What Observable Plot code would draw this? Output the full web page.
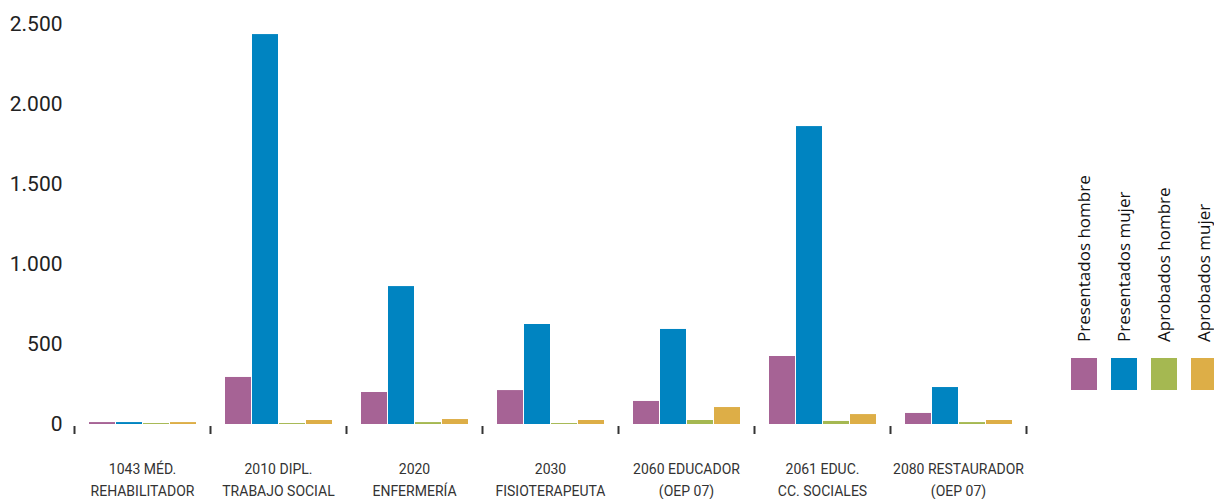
<!DOCTYPE html>
<html>
<head>
<meta charset="utf-8">
<script src="https://cdn.jsdelivr.net/npm/d3@7"></script>
<script src="https://cdn.jsdelivr.net/npm/@observablehq/plot@0.6"></script>
<style>
  html, body { margin: 0; padding: 0; background: #fff; }
  #wrap { position: relative; width: 1214px; height: 499px; overflow: hidden; }
  #legend { position: absolute; left: 0; top: 0; }
</style>
</head>
<body>
<div id="wrap"></div>
<script>
const categories = [
  "1043 MÉD.\nREHABILITADOR",
  "2010 DIPL.\nTRABAJO SOCIAL",
  "2020\nENFERMERÍA",
  "2030\nFISIOTERAPEUTA",
  "2060 EDUCADOR\n(OEP 07)",
  "2061 EDUC.\nCC. SOCIALES",
  "2080 RESTAURADOR\n(OEP 07)"
];
const series = ["Presentados hombre", "Presentados mujer", "Aprobados hombre", "Aprobados mujer"];
const presentadosHombre = [12, 294, 200, 212, 144, 425, 69];
const presentadosMujer  = [12, 2437, 862, 625, 594, 1862, 231];
const aprobadosHombre   = [6, 6, 12, 6, 25, 19, 12];
const aprobadosMujer    = [12, 25, 31, 25, 106, 62, 25];
const colors = ["#a66395", "#0084c1", "#a5b851", "#ddae47"];
const yTicks = [0, 500, 1000, 1500, 2000, 2500];

const seriesValues = [presentadosHombre, presentadosMujer, aprobadosHombre, aprobadosMujer];
const data = [];
categories.forEach((c, i) => {
  series.forEach((s, j) => data.push({category: c, serie: s, value: seriesValues[j][i]}));
});

const fmt = d => d3.format(",")(d).replace(/,/g, ".");

const chart = Plot.plot({
  width: 1214,
  height: 499,
  marginLeft: 74,
  marginRight: 188,
  marginTop: 24,
  marginBottom: 75,
  style: {fontFamily: "Roboto, sans-serif", background: "#fff"},
  fx: {domain: categories, paddingInner: 0, paddingOuter: 0},
  x: {domain: series, paddingInner: 0.04, paddingOuter: 0.52},
  y: {domain: [0, 2500]},
  color: {domain: series, range: colors},
  marks: [
    Plot.barY(data, {fx: "category", x: "serie", y: "value", fill: "serie"}),
    Plot.axisX({ticks: [], label: null}),
    Plot.axisFx({
      anchor: "bottom", tickSize: 0, tickPadding: 34, label: null,
      fontSize: 14, lineHeight: 1.55, fill: "#333",
      fontFamily: "'Liberation Sans Narrow', 'Roboto', sans-serif"
    }),
    Plot.axisY({
      ticks: yTicks, tickFormat: fmt, tickSize: 0, tickPadding: 12,
      fontSize: 21, label: null, fill: "#222"
    })
  ]
});

document.getElementById("wrap").appendChild(chart);

// group boundary ticks, positioned from the fx scale
const fx = chart.scale("fx");
const svg = d3.select(chart);
const lefts = categories.map(c => fx.apply(c));
const bw = fx.bandwidth;
const bounds = lefts.concat([lefts[lefts.length - 1] + bw]);
svg.append("g")
  .selectAll("line")
  .data(bounds)
  .join("line")
  .attr("x1", d => d + 0.5).attr("x2", d => d + 0.5)
  .attr("y1", 426).attr("y2", 434)
  .attr("stroke", "#333").attr("stroke-width", 2);

// legend
const lg = d3.select("#wrap").append("svg")
  .attr("id", "legend")
  .attr("width", 1214).attr("height", 499);
series.forEach((s, i) => {
  const x0 = 1071 + i * 40;
  lg.append("rect").attr("x", x0).attr("y", 358).attr("width", 26).attr("height", 32).attr("fill", colors[i]);
  lg.append("text")
    .attr("transform", `translate(${x0 + 12},342) rotate(-90)`)
    .attr("dominant-baseline", "central")
    .attr("text-anchor", "start")
    .style("font-family", "'Open Sans', sans-serif")
    .style("font-size", "17px")
    .attr("fill", "#111")
    .text(s);
});
</script>
</body>
</html>
